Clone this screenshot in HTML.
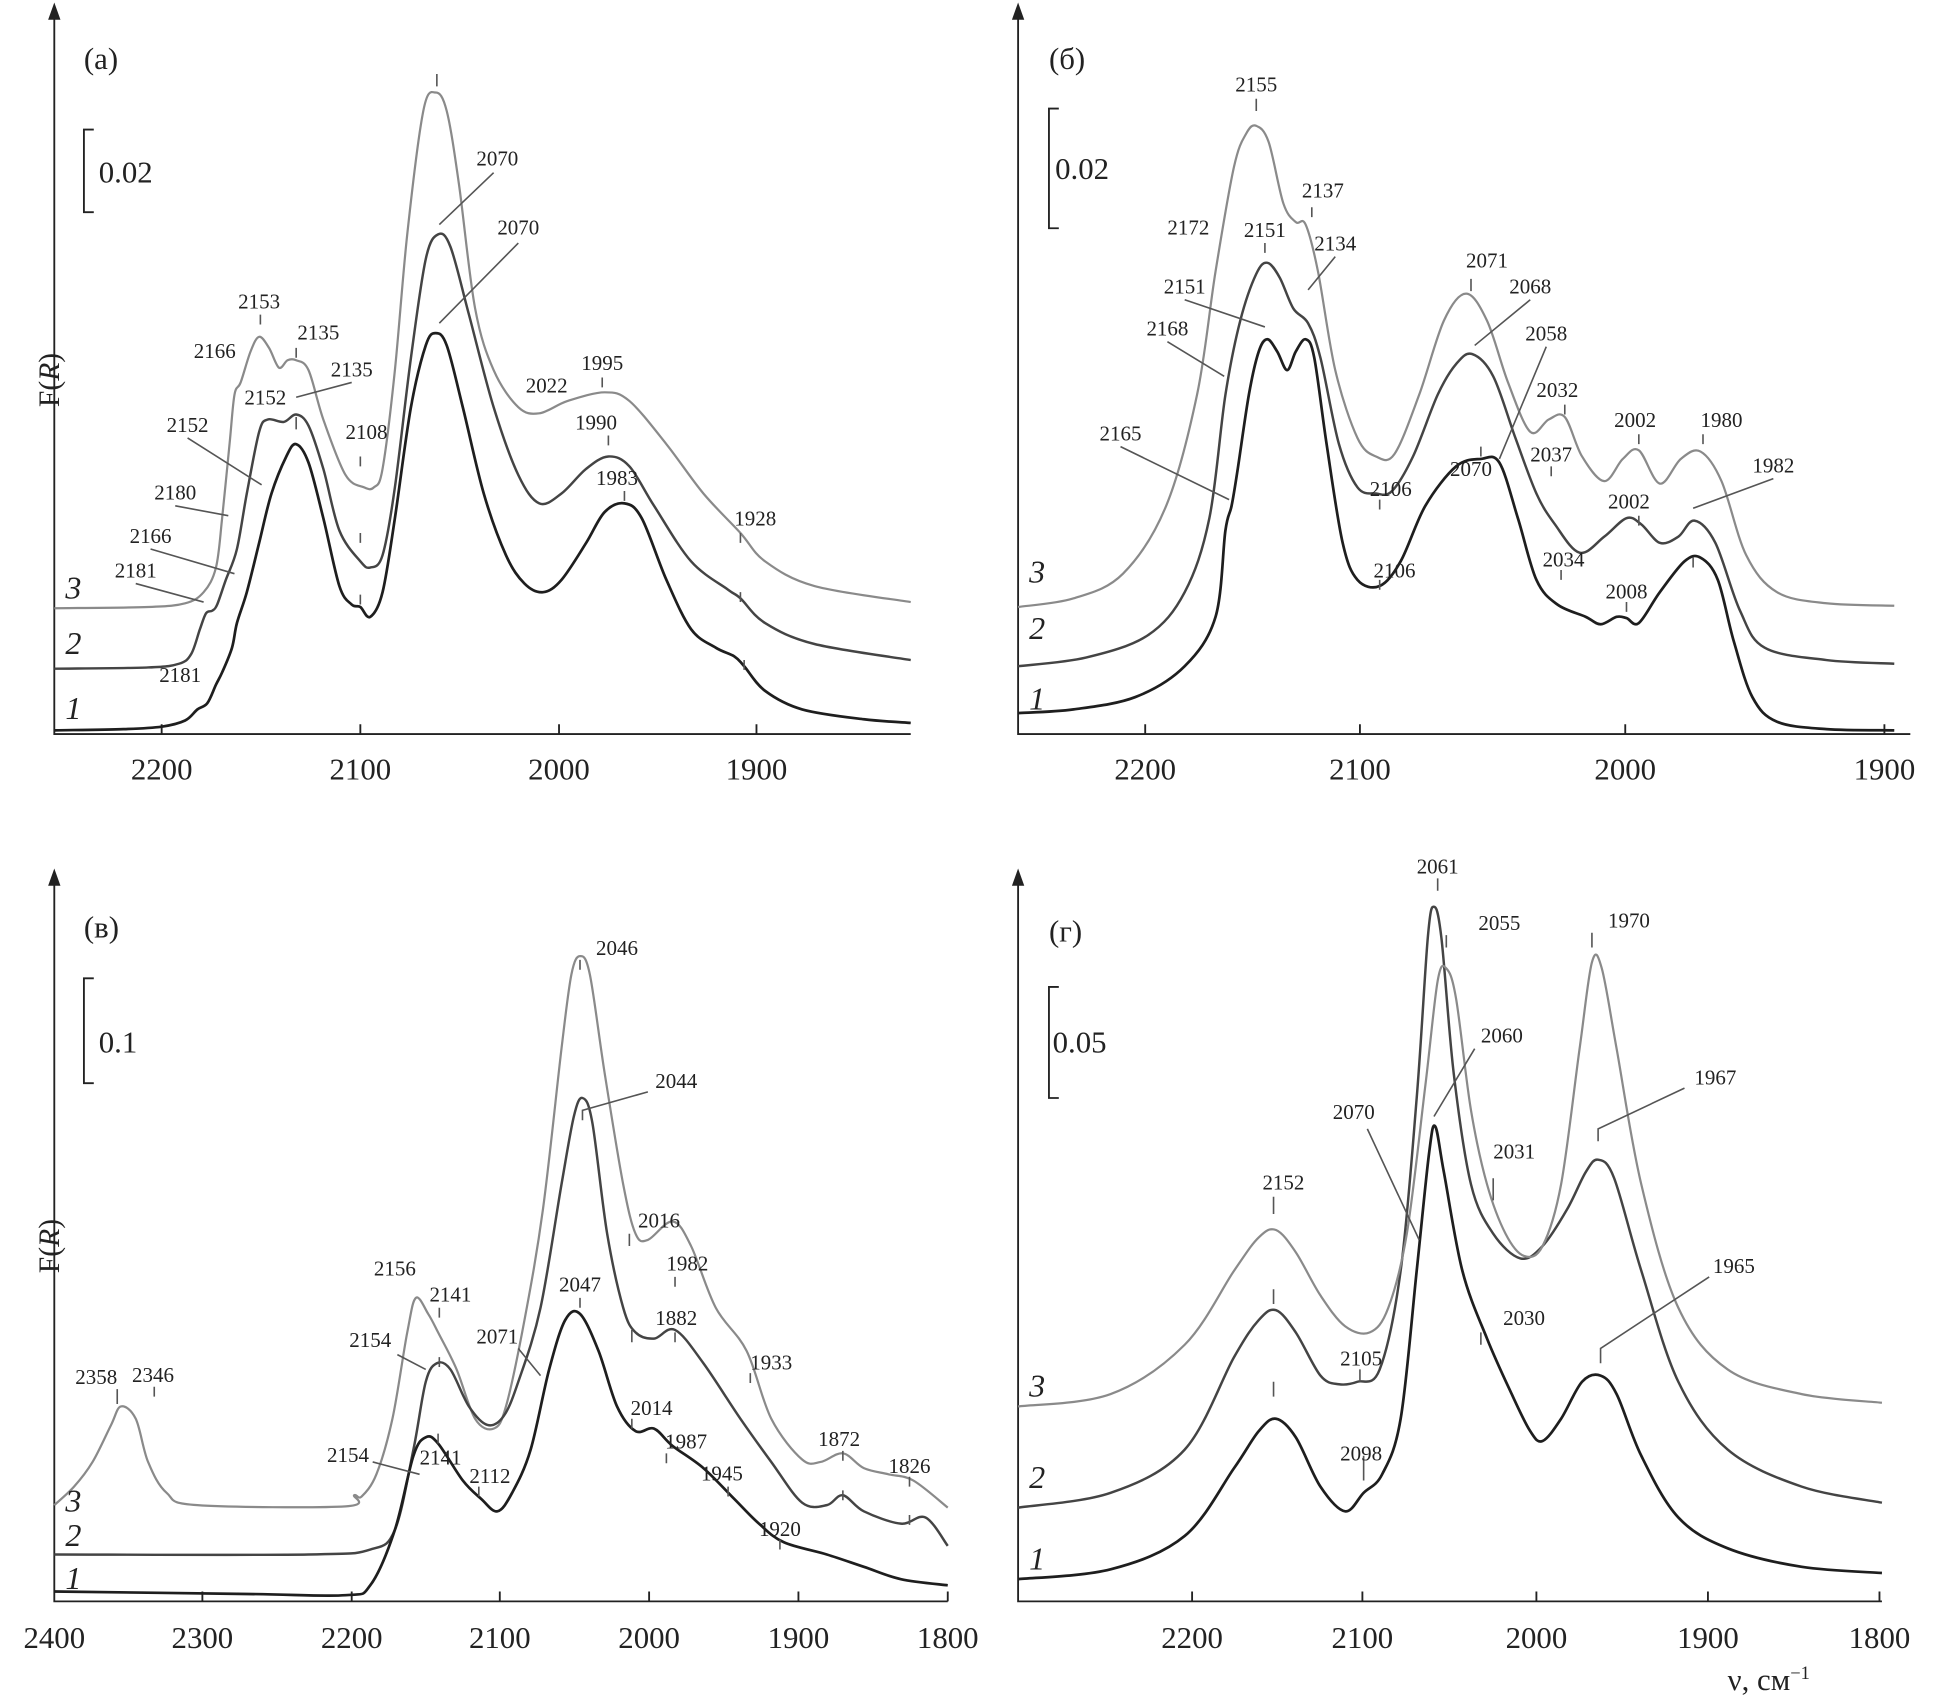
<!DOCTYPE html>
<html><head><meta charset="utf-8"><style>
html,body{margin:0;padding:0;background:#fff}
svg{display:block}
text{font-family:"Liberation Serif",serif;fill:#222}
.l{font-size:17px;text-anchor:middle}
.t{font-size:25px;text-anchor:middle;font-family:"Liberation Sans",sans-serif}
.n{font-size:26px;font-style:italic}
.c1{fill:none;stroke:#1e1e1e;stroke-width:2.2;stroke-linejoin:round}
.c2{fill:none;stroke:#444;stroke-width:2;stroke-linejoin:round}
.c3{fill:none;stroke:#8a8a8a;stroke-width:1.8;stroke-linejoin:round}
.a{stroke:#222;stroke-width:1.5;fill:none}
.k{stroke:#555;stroke-width:1.3;fill:none}
</style></head><body>
<svg id="s" width="1935" height="1705" viewBox="0 0 1568 1382" preserveAspectRatio="none" xmlns="http://www.w3.org/2000/svg">
<g class="a">
<path d="M44,10 V595 H738"/><path d="M825,10 V595 H1548"/>
<path d="M44,712 V1298 H768"/><path d="M825,712 V1298 H1525"/>
<path d="M76,105 H68 V172 H76"/><path d="M858,88 H850 V185 H858"/>
<path d="M76,793 H68 V878 H76"/><path d="M858,800 H850 V890 H858"/>
<path d="M131,595v-8M292,595v-8M453,595v-8M613,595v-8"/>
<path d="M928,595v-8M1102,595v-8M1317,595v-8M1527,595v-8"/>
<path d="M164,1298v-8M285,1298v-8M405,1298v-8M526,1298v-8M647,1298v-8M768,1298v-8"/>
<path d="M966,1298v-8M1104,1298v-8M1245,1298v-8M1384,1298v-8M1523,1298v-8"/>
</g>
<path d="M44,2 l-5,14 h10z M825,2 l-5,14 h10z M44,704 l-5,14 h10z M825,704 l-5,14 h10z" fill="#222"/>
<polyline class="c1" points="44,592 100,591 131,589 150,584 160,575 168,570 175,555 180,545 188,525 192,505 200,480 210,440 220,400 232,370 240,360 250,375 262,420 275,475 285,490 292,492 300,500 310,480 320,420 333,330 345,280 353,270 362,280 375,330 392,400 410,450 425,473 440,480 455,470 475,440 490,415 506,408 520,420 540,470 560,510 580,525 595,532 603,540 620,560 650,575 700,583 738,586"/>
<polyline class="c2" points="44,542 120,541 145,538 155,530 162,510 167,497 172,495 176,490 183,470 192,445 200,400 210,350 217,340 230,342 240,336 250,345 262,380 275,430 292,455 300,460 310,450 320,395 333,290 345,210 355,190 365,200 380,255 400,330 420,385 437,408 455,400 475,380 493,370 510,378 530,410 560,455 590,478 600,485 620,505 660,522 738,535"/>
<polyline class="c3" points="44,493 120,492 150,489 165,480 175,460 180,420 186,360 190,320 195,310 203,285 210,273 218,282 226,298 233,292 240,292 250,300 262,340 280,385 295,395 303,395 310,380 320,300 330,190 343,90 353,75 362,90 372,150 385,250 400,300 420,330 437,335 460,325 490,318 510,325 540,360 570,400 600,432 620,455 660,475 738,488"/>
<polyline class="c1" points="825,578 870,575 920,565 960,540 985,500 993,430 998,410 1003,380 1012,320 1020,285 1027,275 1035,285 1043,300 1050,285 1058,275 1065,290 1075,360 1088,440 1100,470 1118,475 1135,455 1155,410 1180,378 1200,372 1215,375 1230,420 1245,470 1262,490 1285,500 1297,506 1310,500 1318,501 1328,505 1345,480 1365,455 1378,452 1392,470 1405,520 1420,565 1440,585 1480,591 1535,592"/>
<polyline class="c2" points="825,540 880,533 930,515 960,480 980,420 993,320 1005,260 1018,222 1027,213 1037,225 1048,250 1060,262 1070,290 1085,360 1100,395 1115,400 1128,398 1145,370 1165,320 1180,295 1193,287 1210,305 1228,355 1245,400 1260,425 1280,448 1300,435 1318,420 1330,425 1345,440 1360,435 1373,422 1390,440 1410,495 1430,525 1480,535 1535,538"/>
<polyline class="c3" points="825,492 870,485 910,465 945,410 970,320 985,220 1000,135 1010,108 1018,102 1028,115 1040,165 1050,180 1058,182 1068,220 1082,300 1100,355 1115,370 1130,368 1150,320 1170,260 1188,238 1205,260 1222,310 1240,350 1255,340 1268,338 1282,370 1300,390 1315,372 1328,365 1345,392 1362,372 1378,366 1395,390 1415,450 1440,480 1480,489 1535,491"/>
<polyline class="c3" points="44,1220 60,1205 75,1185 90,1155 98,1140 110,1150 120,1185 135,1210 160,1220 280,1221 287,1212 293,1213 305,1195 318,1150 330,1080 337,1052 347,1065 355,1080 370,1110 385,1150 400,1158 410,1140 425,1070 440,980 455,850 463,790 470,775 478,790 490,870 505,960 515,1000 525,1005 545,990 560,1010 580,1060 605,1095 625,1150 650,1183 665,1185 683,1178 700,1190 720,1195 740,1200 768,1222"/>
<polyline class="c2" points="44,1260 250,1260 300,1256 320,1240 335,1175 345,1120 354,1105 365,1110 380,1140 395,1155 408,1148 420,1120 438,1060 455,960 465,905 472,890 480,910 492,1000 505,1060 515,1080 530,1085 547,1078 570,1105 600,1150 625,1185 650,1218 670,1220 683,1212 700,1225 730,1235 750,1230 768,1253"/>
<polyline class="c1" points="44,1290 200,1292 280,1293 300,1285 320,1240 335,1180 345,1165 355,1170 375,1200 390,1215 403,1225 415,1210 430,1175 445,1110 458,1070 470,1065 485,1095 500,1140 515,1160 530,1158 545,1172 570,1190 595,1215 615,1235 635,1250 670,1260 700,1270 730,1280 768,1285"/>
<polyline class="c1" points="825,1280 900,1272 960,1245 1000,1190 1020,1160 1034,1150 1050,1165 1070,1205 1090,1225 1105,1210 1120,1195 1135,1150 1148,1030 1158,935 1163,913 1170,950 1185,1030 1205,1085 1225,1130 1240,1160 1250,1168 1265,1150 1282,1120 1297,1115 1310,1130 1330,1180 1360,1230 1400,1255 1460,1270 1525,1275"/>
<polyline class="c2" points="825,1222 900,1210 960,1175 1000,1100 1020,1070 1034,1062 1050,1080 1070,1115 1085,1122 1100,1120 1118,1110 1135,1030 1148,890 1157,760 1162,735 1168,760 1178,870 1192,960 1210,1000 1232,1020 1250,1010 1270,980 1285,950 1295,940 1308,955 1330,1030 1360,1120 1400,1175 1460,1205 1525,1218"/>
<polyline class="c3" points="825,1140 900,1130 960,1090 1000,1030 1020,1003 1034,997 1050,1015 1070,1050 1090,1075 1110,1080 1125,1060 1140,1000 1155,880 1165,795 1172,785 1180,810 1192,900 1205,960 1220,1000 1235,1018 1250,1010 1265,960 1280,850 1290,780 1298,785 1310,850 1330,960 1360,1060 1400,1110 1460,1130 1525,1137"/>
<g class="k">
<path d="M400,140 L356,182 M420,197 L356,262 M285,310 L240,322 M152,355 L212,393 M142,410 L185,418 M122,445 L190,465 M110,473 L165,488"/>
<path d="M1082,208 L1060,235 M960,243 L1025,265 M1240,243 L1195,280 M946,277 L992,305 M1253,281 L1215,372 M908,362 L996,405 M1437,388 L1372,412"/>
<path d="M525,885 L472,900 V908 M322,1098 L345,1110 M420,1093 L438,1115 M302,1185 L340,1195"/>
<path d="M1365,882 L1295,915 V925 M1108,915 L1150,1005 M1385,1035 L1297,1093 V1105 M1165,712v10 M1290,756v12 M1032,970v14 M1032,1045v12 M1032,1120v12 M1210,955v18 M1105,1180v20 M1200,1080v10 M1172,758v10 M1195,850 L1162,905"/>
<path d="M354,60v10 M211,255v8 M240,282v8 M240,338v10 M292,370v8 M292,432v8 M292,482v8 M488,306v8 M493,353v8 M506,398v8 M600,432v8 M600,480v8 M603,535v8 M1018,80v10 M1025,197v8 M1063,168v8 M1192,226v10 M1118,405v8 M1118,470v8 M1268,328v8 M1328,352v8 M1380,352v8 M1200,362v8 M1257,378v8 M1328,418v8 M1265,462v8 M1318,488v8 M1372,452v8 M470,778v8 M510,1000v10 M512,1078v10 M547,1035v8 M356,1060v8 M356,1100v8 M355,1162v8 M470,1052v8 M547,1080v8 M608,1113v8 M512,1150v8 M540,1178v8 M388,1205v8 M590,1205v8 M632,1248v8 M683,1176v8 M683,1208v8 M737,1197v8 M737,1228v8 M95,1126v12 M125,1124v8 M1102,1110v10"/>
</g>
<g class="t">
<text x="131" y="632">2200</text><text x="292" y="632">2100</text><text x="453" y="632">2000</text><text x="613" y="632">1900</text>
<text x="928" y="632">2200</text><text x="1102" y="632">2100</text><text x="1317" y="632">2000</text><text x="1527" y="632">1900</text>
<text x="44" y="1336">2400</text><text x="164" y="1336">2300</text><text x="285" y="1336">2200</text><text x="405" y="1336">2100</text><text x="526" y="1336">2000</text><text x="647" y="1336">1900</text><text x="768" y="1336">1800</text>
<text x="966" y="1336">2200</text><text x="1104" y="1336">2100</text><text x="1245" y="1336">2000</text><text x="1384" y="1336">1900</text><text x="1523" y="1336">1800</text>
</g>
<g style="font-size:25px;font-family:'Liberation Sans',sans-serif">
<text x="68" y="56">(a)</text><text x="80" y="148">0.02</text>
<text x="850" y="56">(б)</text><text x="855" y="145">0.02</text>
<text x="68" y="760">(в)</text><text x="80" y="853">0.1</text>
<text x="850" y="763">(г)</text><text x="853" y="853">0.05</text>
<text x="1400" y="1370" style="font-family:'Liberation Serif',serif">ν, см<tspan dy="-9" font-size="15">−1</tspan></text>
</g>
<text x="28" y="350" transform="rotate(-90 28 330)" style="font-size:24px">F(<tspan font-style="italic">R</tspan>)</text>
<text x="28" y="1052" transform="rotate(-90 28 1032)" style="font-size:24px">F(<tspan font-style="italic">R</tspan>)</text>
<g class="n">
<text x="53" y="485">3</text><text x="53" y="530">2</text><text x="53" y="583">1</text>
<text x="834" y="472">3</text><text x="834" y="518">2</text><text x="834" y="575">1</text>
<text x="53" y="1225">3</text><text x="53" y="1253">2</text><text x="53" y="1288">1</text>
<text x="834" y="1132">3</text><text x="834" y="1206">2</text><text x="834" y="1272">1</text>
</g>
<g class="l">
<text x="403" y="134">2070</text><text x="420" y="190">2070</text><text x="210" y="250">2153</text><text x="174" y="290">2166</text><text x="258" y="275">2135</text><text x="285" y="305">2135</text><text x="215" y="328">2152</text><text x="152" y="350">2152</text><text x="297" y="356">2108</text><text x="142" y="405">2180</text><text x="122" y="440">2166</text><text x="110" y="468">2181</text><text x="146" y="553">2181</text><text x="443" y="318">2022</text><text x="488" y="300">1995</text><text x="483" y="348">1990</text><text x="500" y="393">1983</text><text x="612" y="426">1928</text>
<text x="1018" y="74">2155</text><text x="1072" y="160">2137</text><text x="963" y="190">2172</text><text x="1025" y="192">2151</text><text x="1082" y="203">2134</text><text x="960" y="238">2151</text><text x="1205" y="217">2071</text><text x="1240" y="238">2068</text><text x="946" y="272">2168</text><text x="1253" y="276">2058</text><text x="1262" y="322">2032</text><text x="1325" y="346">2002</text><text x="1395" y="346">1980</text><text x="908" y="357">2165</text><text x="1192" y="386">2070</text><text x="1257" y="374">2037</text><text x="1437" y="383">1982</text><text x="1127" y="402">2106</text><text x="1320" y="412">2002</text><text x="1130" y="468">2106</text><text x="1267" y="459">2034</text><text x="1318" y="485">2008</text>
<text x="500" y="774">2046</text><text x="548" y="882">2044</text><text x="534" y="995">2016</text><text x="557" y="1030">1982</text><text x="320" y="1034">2156</text><text x="365" y="1055">2141</text><text x="470" y="1047">2047</text><text x="300" y="1092">2154</text><text x="403" y="1089">2071</text><text x="548" y="1074">1882</text><text x="625" y="1110">1933</text><text x="78" y="1122">2358</text><text x="124" y="1120">2346</text><text x="528" y="1147">2014</text><text x="556" y="1174">1987</text><text x="282" y="1185">2154</text><text x="357" y="1187">2141</text><text x="397" y="1202">2112</text><text x="585" y="1200">1945</text><text x="680" y="1172">1872</text><text x="737" y="1194">1826</text><text x="632" y="1245">1920</text>
<text x="1165" y="708">2061</text><text x="1215" y="754">2055</text><text x="1320" y="752">1970</text><text x="1217" y="845">2060</text><text x="1390" y="879">1967</text><text x="1097" y="907">2070</text><text x="1227" y="939">2031</text><text x="1040" y="964">2152</text><text x="1235" y="1074">2030</text><text x="1405" y="1032">1965</text><text x="1103" y="1107">2105</text><text x="1103" y="1184">2098</text>
</g>
</svg>
<script>
document.querySelectorAll('polyline').forEach(function(pl){
  var p=pl.getAttribute('points').trim().split(/\s+/).map(function(s){return s.split(',').map(Number);});
  var d='M'+p[0][0]+','+p[0][1];
  for(var i=0;i<p.length-1;i++){
    var p0=p[i-1]||p[i],p1=p[i],p2=p[i+1],p3=p[i+2]||p2;
    var c1x=p1[0]+(p2[0]-p0[0])/6,c1y=p1[1]+(p2[1]-p0[1])/6;
    var c2x=p2[0]-(p3[0]-p1[0])/6,c2y=p2[1]-(p3[1]-p1[1])/6;
    d+=' C'+c1x.toFixed(1)+','+c1y.toFixed(1)+' '+c2x.toFixed(1)+','+c2y.toFixed(1)+' '+p2[0]+','+p2[1];
  }
  var path=document.createElementNS('http://www.w3.org/2000/svg','path');
  path.setAttribute('d',d);path.setAttribute('class',pl.getAttribute('class'));
  pl.parentNode.replaceChild(path,pl);
});
</script>
</body></html>
